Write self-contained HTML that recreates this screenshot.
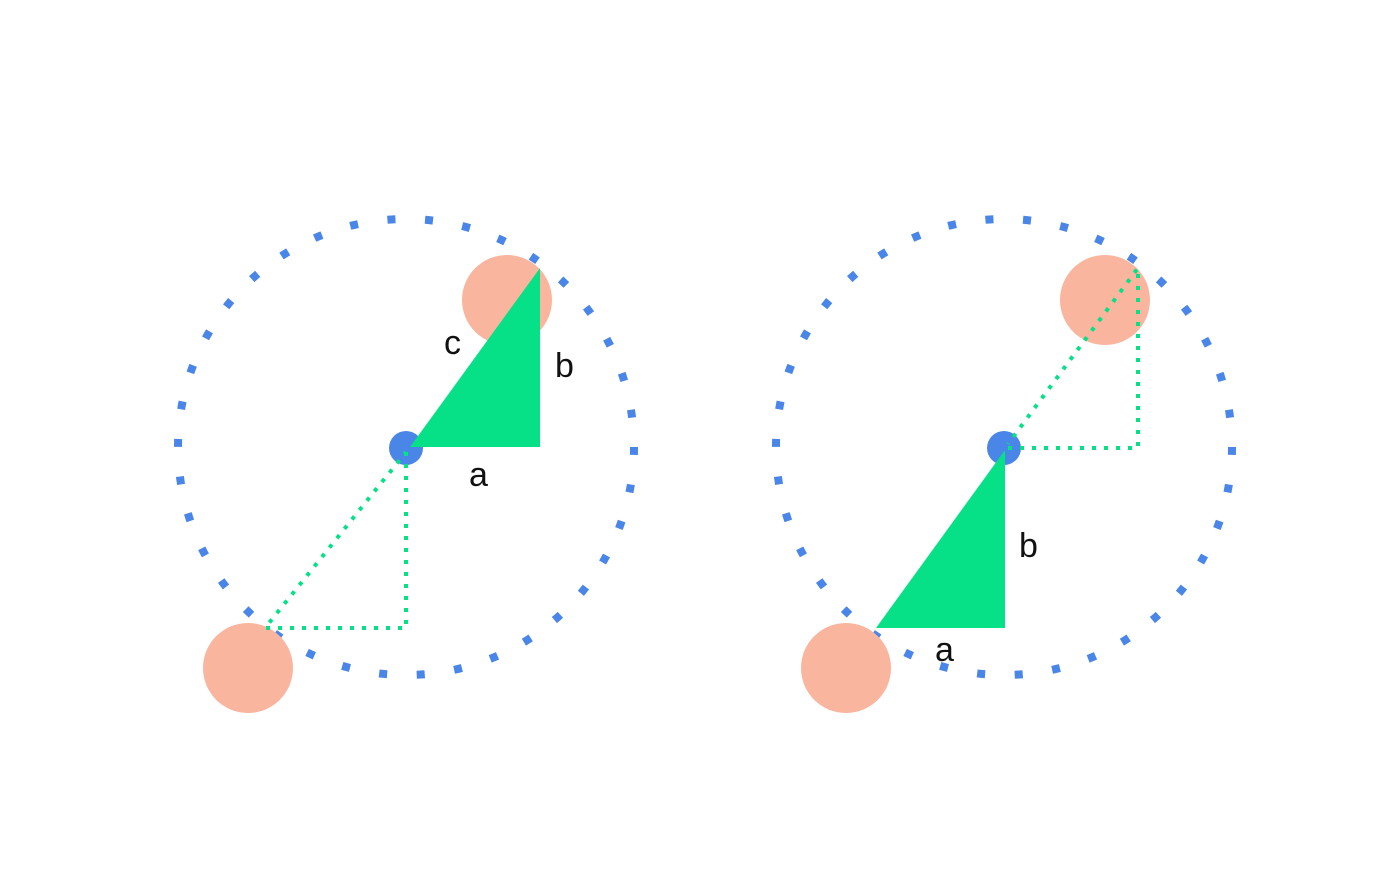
<!DOCTYPE html>
<html><head><meta charset="utf-8"><style>
html,body{margin:0;padding:0;background:#fff;width:1400px;height:886px;overflow:hidden}
text{font-family:"Liberation Sans",sans-serif;font-size:34px;fill:#111}
</style></head><body>
<svg width="1400" height="886">
<g>
<circle cx="406" cy="447" r="228" fill="none" stroke="#4a86e8" stroke-width="8" stroke-dasharray="8 29.7"/>
<circle cx="507" cy="300" r="45" fill="#f9b59d"/>
<circle cx="248" cy="668" r="45" fill="#f9b59d"/>
<circle cx="406" cy="448" r="17" fill="#4a86e8"/>
<polygon points="410,447 540,268 540,447" fill="#06e086"/>
<polyline points="406,452 406,628 265,628 406,452" fill="none" stroke="#06e086" stroke-width="4" stroke-dasharray="4 8"/>
<text x="444" y="354">c</text>
<text x="555" y="377">b</text>
<text x="469" y="486">a</text>
</g>
<g>
<circle cx="1004" cy="447" r="228" fill="none" stroke="#4a86e8" stroke-width="8" stroke-dasharray="8 29.7"/>
<circle cx="1105" cy="300" r="45" fill="#f9b59d"/>
<circle cx="846" cy="668" r="45" fill="#f9b59d"/>
<circle cx="1004" cy="448" r="17" fill="#4a86e8"/>
<polygon points="1005,450 1005,628 876,628" fill="#06e086"/>
<polyline points="1008,448 1138,448 1138,268 1008,444" fill="none" stroke="#06e086" stroke-width="4" stroke-dasharray="4 8"/>
<text x="1019" y="557">b</text>
<text x="935" y="661">a</text>
</g>
</svg>
</body></html>
